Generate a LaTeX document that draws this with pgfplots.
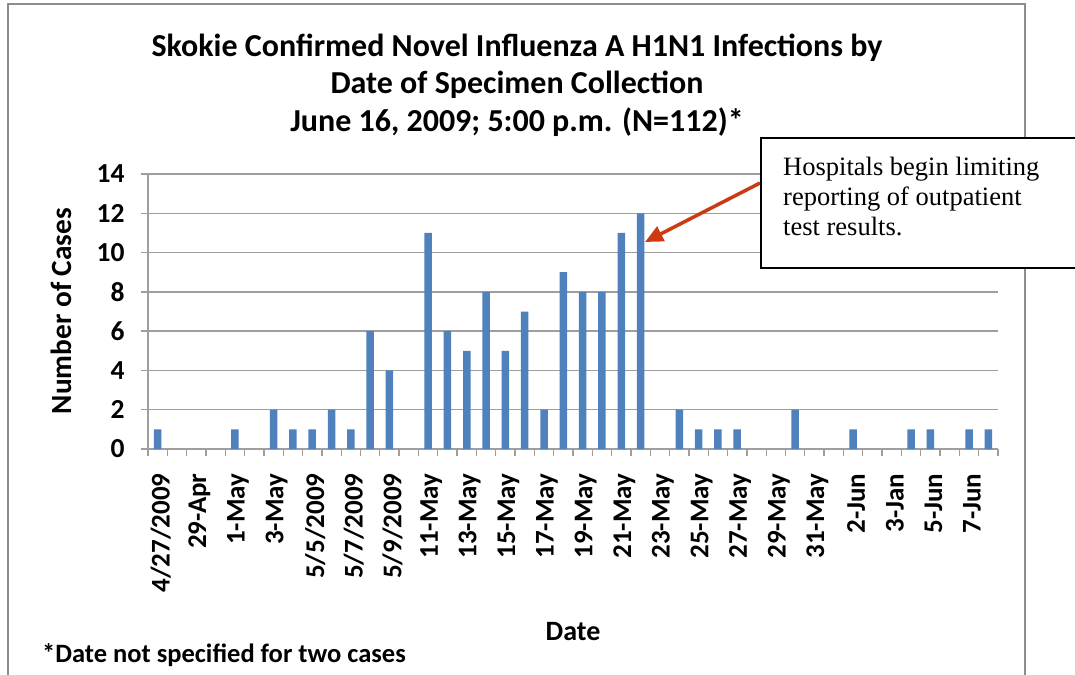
\documentclass[border=0pt]{standalone}
\usepackage{fontspec}
\setmainfont{Carlito}
\newfontfamily\tnr{Liberation Serif}
\usepackage{pgfplots}
\pgfplotsset{compat=1.18}
\usetikzlibrary{arrows.meta}
\definecolor{barblue}{HTML}{4F81BD}
\definecolor{gridgray}{HTML}{9E9E9E}
\definecolor{framegray}{HTML}{8C8C8C}
\definecolor{arrowred}{HTML}{CC3A12}
\newcommand\tickfont{\fontsize{27.5bp}{27.5bp}\selectfont\bfseries}
\newcommand\xtickfont{\fontsize{27bp}{27bp}\selectfont\bfseries}
\begin{document}
\begin{tikzpicture}
\useasboundingbox (0,0) rectangle (1075bp,-675bp);
\fill[white] (0,0) rectangle (1075bp,-675bp);
\draw[framegray, line width=1.8bp] (8bp,-700bp) -- (8bp,-4bp) -- (1025bp,-4bp) -- (1025bp,-700bp);
\begin{axis}[
  at={(148bp,-449bp)}, anchor=south west,
  width=850bp, height=275bp, scale only axis,
  xmin=-0.5, xmax=43.5, ymin=0, ymax=14,
  axis x line*=bottom, axis y line*=left,
  axis line style={color=gridgray, line width=1.3bp},
  ytick={0,2,...,14},
  ymajorgrids, grid style={color=gridgray, line width=1.3bp},
  major tick length=7bp, tick align=outside,
  tick style={color=gridgray, line width=1.3bp},
  /pgf/number format/assume math mode=true,
  yticklabel style={font=\tickfont, anchor=east, xshift=-13bp},
  xtick={-0.5,0.5,...,43.5}, xticklabels={},
  extra x ticks={0,2,...,42},
  extra x tick labels={4/27/2009,29-Apr,1-May,3-May,5/5/2009,5/7/2009,5/9/2009,11-May,13-May,15-May,17-May,19-May,21-May,23-May,25-May,27-May,29-May,31-May,2-Jun,3-Jan,5-Jun,7-Jun},
  extra x tick style={major tick length=0pt, tick style={draw=none}},
  xticklabel style={font=\xtickfont, rotate=90, anchor=east, xshift=-21bp, yshift=-3bp},
  clip=false,
]
\addplot[ybar, bar width=7.5bp, fill=barblue, draw=none] coordinates {
(0,1) (4,1) (6,2) (7,1) (8,1) (9,2) (10,1) (11,6) (12,4)
(14,11) (15,6) (16,5) (17,8) (18,5) (19,7) (20,2) (21,9) (22,8) (23,8) (24,11) (25,12)
(27,2) (28,1) (29,1) (30,1) (33,2) (36,1) (39,1) (40,1) (42,1) (43,1)
};
\end{axis}
\begin{scope}[every node/.style={font=\fontsize{32bp}{36bp}\selectfont\bfseries, anchor=base, inner sep=0pt}]
\node at (517bp,-56bp) {Skokie Confirmed Novel Influenza A H1N1 Infections by};
\node at (517bp,-93bp) {Date of Specimen Collection};
\node at (517bp,-131bp) {June 16, 2009; 5:00 p.m. (N=112)*};
\end{scope}
\node[font=\fontsize{29.3bp}{29bp}\selectfont\bfseries, rotate=90, anchor=base, inner sep=0pt] at (71bp,-311bp) {Number of Cases};
\node[font=\fontsize{28bp}{28bp}\selectfont\bfseries, anchor=base, inner sep=0pt] at (573bp,-640bp) {Date};
\node[font=\fontsize{26.5bp}{28bp}\selectfont\bfseries, anchor=base west, inner sep=0pt] at (42bp,-662bp) {*Date not specified for two cases};
\draw[arrowred, line width=3.5bp, -{Triangle[length=18bp,width=16bp]}] (760bp,-183bp) -- (645bp,-242bp);
\draw[black, line width=2bp, fill=white] (761bp,-138bp) rectangle (1090bp,-268bp);
\begin{scope}[every node/.style={font=\tnr\fontsize{26.5bp}{30bp}\selectfont, anchor=base west, inner sep=0pt}]
\node at (783bp,-175bp) {Hospitals begin limiting};
\node at (783bp,-205bp) {reporting of outpatient};
\node at (783bp,-235bp) {test results.};
\end{scope}
\end{tikzpicture}
\end{document}
